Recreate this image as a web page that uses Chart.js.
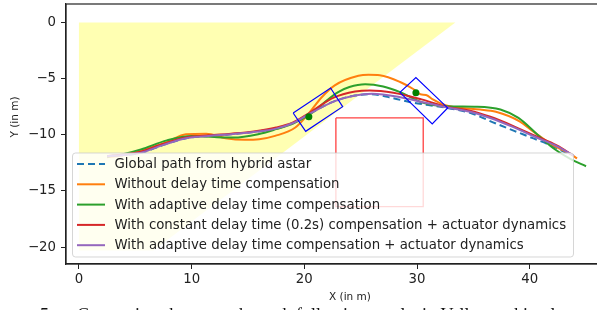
<!DOCTYPE html>
<html>
<head>
<meta charset="utf-8">
<script src="https://cdn.jsdelivr.net/npm/chart.js@4"></script>
<style>
  html, body { margin: 0; padding: 0; background: #fff; overflow: hidden; width: 597px; height: 310px; }
  #wrap { position: absolute; left: 0; top: 0; width: 640px; height: 310px; }
</style>
</head>
<body>
<div id="wrap"><canvas id="c" width="640" height="310"></canvas></div>
<script>
'use strict';

// axis ranges and ticks
const X_MIN = -1.15, X_MAX = 48.9;
const Y_MIN = -21.5, Y_MAX = 1.64;
const xTicks = [0, 10, 20, 30, 40];
const yTicks = [0, -5, -10, -15, -20];

// drivable area (yellow) and obstacle (red)
const areaX = [0, 33.4, 6.6, 0, 0];
const areaY = [0, 0, -20.3, -20.3, 0];
const obstacleX = [22.8, 30.55, 30.55, 22.8, 22.8];
const obstacleY = [-8.5, -8.5, -16.4, -16.4, -8.5];

// vehicle footprints
const car1X = [19.01, 22.33, 23.40, 20.12, 19.01];
const car1Y = [-8.06, -5.84, -7.50, -9.69, -8.06];
const car2X = [28.48, 29.90, 32.72, 31.35, 28.48];
const car2Y = [-6.23, -4.90, -7.61, -9.03, -6.23];
const dotX = [20.4, 29.9];
const dotY = [-8.4, -6.25];

// trajectories
const globalX = [2.5, 4, 5.5, 7.5, 9.5, 11.5, 13.5, 15.5, 17.5, 19, 20.6, 22.7, 24.5, 26, 27.9, 29.4, 31, 32.6, 34.7, 37, 39.5, 42, 43.6];
const globalY = [-11.9, -11.8, -11.6, -10.9, -10.3, -10.1, -9.95, -9.75, -9.45, -8.95, -8.05, -7.0, -6.5, -6.4, -6.75, -7.1, -7.35, -7.6, -8.05, -9.0, -10.0, -11.0, -11.8];

const orangeX = [2.5, 4, 5.5, 7.8, 9.5, 11.3, 13, 14.7, 16, 17.4, 19.2, 20.35, 21.5, 22.7, 24.8, 25.7, 26.7, 28.5, 29.7, 30.3, 30.8, 31.4, 32.6, 33.8, 35.6, 37, 39.1, 40.3, 42.1, 43.6, 44.2];
const orangeY = [-12.0, -11.8, -11.4, -10.65, -9.95, -9.9, -10.3, -10.45, -10.4, -10.1, -9.35, -8.15, -6.7, -5.6, -4.75, -4.66, -4.7, -5.3, -5.95, -6.4, -6.45, -6.85, -7.4, -7.6, -7.75, -7.95, -8.8, -9.7, -10.95, -11.7, -12.1];

const greenX = [2.5, 4, 5.5, 7.8, 10, 12, 13.7, 15.9, 17.5, 19, 20.6, 21.8, 23, 24, 25.4, 27, 28.5, 30.4, 32.6, 35.3, 37.4, 39, 40.6, 42.1, 43.6, 45];
const greenY = [-11.95, -11.7, -11.3, -10.5, -10.1, -10.2, -10.25, -9.95, -9.5, -9.0, -8.1, -7.1, -6.2, -5.75, -5.5, -5.7, -6.2, -7.1, -7.45, -7.5, -7.75, -8.5, -9.9, -11.2, -12.15, -12.8];

const redX = [2.5, 4, 5.5, 7.5, 9.5, 11.5, 13.5, 15.5, 17.5, 19, 20.6, 22.6, 24.5, 25.8, 27.9, 30.4, 32.6, 34.7, 36.5, 38.5, 40.5, 42.4, 43.8];
const redY = [-11.9, -11.75, -11.5, -10.8, -10.25, -10.05, -9.9, -9.7, -9.35, -8.9, -7.95, -6.7, -6.15, -6.05, -6.25, -6.85, -7.5, -7.85, -8.4, -9.2, -10.1, -10.95, -11.8];

const purpleX = [2.5, 4, 5.5, 7.5, 9.5, 11.5, 13.5, 15.5, 17.5, 19, 20.6, 22.7, 24.5, 26, 28.5, 30.5, 32.6, 34.7, 36.5, 38.5, 40.5, 42.4, 43.9];
const purpleY = [-11.9, -11.8, -11.6, -10.9, -10.3, -10.1, -9.95, -9.75, -9.45, -8.95, -8.05, -7.0, -6.5, -6.35, -6.65, -7.1, -7.55, -7.95, -8.5, -9.3, -10.2, -11.0, -11.85];

const LEGEND_LABELS = [
  'Global path from hybrid astar',
  'Without delay time compensation',
  'With adaptive delay time compensation',
  'With constant delay time (0.2s) compensation + actuator dynamics',
  'With adaptive delay time compensation + actuator dynamics',
];
const X_TITLE = 'X (in m)';
const Y_TITLE = 'Y (in m)';
const CAPTION = 'Comparison between the path following results in Valley parking lot test';

const FONT = '"DejaVu Sans", sans-serif';

const pts = (xs, ys) => xs.map((x, i) => ({ x, y: ys[i] }));
const minus = v => (v < 0 ? '\u2212' + Math.abs(v) : String(v));

function shape(xs, ys, color, width, order, fillColor) {
  return {
    data: pts(xs, ys),
    borderColor: color,
    borderWidth: width,
    backgroundColor: fillColor || 'transparent',
    fill: fillColor ? 'shape' : false,
    pointRadius: 0,
    tension: 0,
    order,
  };
}

function trace(label, xs, ys, color, order, dash) {
  return {
    label,
    inLegend: true,
    data: pts(xs, ys),
    borderColor: color,
    backgroundColor: color,
    borderWidth: 2,
    borderDash: dash || [],
    pointRadius: 0,
    fill: false,
    cubicInterpolationMode: 'monotone',
    order,
  };
}

const datasets = [
  shape(areaX, areaY, 'rgba(0,0,0,0)', 0, 20, 'rgba(255,255,0,0.3)'),
  shape(obstacleX, obstacleY, 'rgba(255,0,0,0.75)', 1.3, 19),
  trace(LEGEND_LABELS[0], globalX, globalY, '#1f77b4', 15, [7, 4]),
  trace(LEGEND_LABELS[1], orangeX, orangeY, '#ff7f0e', 14),
  trace(LEGEND_LABELS[2], greenX, greenY, '#2ca02c', 13),
  trace(LEGEND_LABELS[3], redX, redY, '#d62728', 12),
  trace(LEGEND_LABELS[4], purpleX, purpleY, '#9467bd', 11),
  shape(car1X, car1Y, '#0000ff', 1.2, 5),
  shape(car2X, car2Y, '#0000ff', 1.2, 5),
  {
    data: pts(dotX, dotY),
    showLine: false,
    pointRadius: 3.5,
    pointBorderWidth: 0,
    pointBackgroundColor: '#008000',
    order: 4,
  },
];

// legend box drawn inside the axes, over the data (like matplotlib, alpha 0.8)
const innerLegend = {
  id: 'innerLegend',
  afterDatasetsDraw(chart) {
    const ctx = chart.ctx;
    const items = chart.data.datasets.filter(d => d.inLegend);
    const x0 = 72.5, y0 = 153, w = 501, h = 104, rowH = 20.3;
    ctx.save();
    ctx.beginPath();
    ctx.roundRect(x0, y0, w, h, 3);
    ctx.fillStyle = 'rgba(255,255,255,0.8)';
    ctx.fill();
    ctx.strokeStyle = 'rgba(204,204,204,0.8)';
    ctx.lineWidth = 1;
    ctx.stroke();
    ctx.font = '13.3px ' + FONT;
    ctx.textBaseline = 'middle';
    items.forEach((d, i) => {
      const cy = y0 + 11 + i * rowH;
      ctx.beginPath();
      ctx.setLineDash(d.borderDash || []);
      ctx.strokeStyle = d.borderColor;
      ctx.lineWidth = 2;
      ctx.moveTo(77, cy);
      ctx.lineTo(105, cy);
      ctx.stroke();
      ctx.setLineDash([]);
      ctx.fillStyle = '#222';
      ctx.fillText(d.label, 114.5, cy + 0.5);
    });
    ctx.restore();
  },
  afterDraw(chart) {
    const ctx = chart.ctx;
    const a = chart.chartArea;
    ctx.save();
    // axes frame
    ctx.strokeStyle = '#222';
    ctx.lineWidth = 1.2;
    ctx.strokeRect(a.left, a.top, a.right - a.left, a.bottom - a.top);
    // axis titles
    ctx.fillStyle = '#222';
    ctx.font = '10.5px ' + FONT;
    ctx.textAlign = 'center';
    ctx.textBaseline = 'middle';
    ctx.fillText(X_TITLE, 350, 297);
    ctx.translate(15, 117);
    ctx.rotate(-Math.PI / 2);
    ctx.fillText(Y_TITLE, 0, 0);
    ctx.restore();
    // figure caption, cut off by the bottom edge
    ctx.save();
    ctx.fillStyle = '#111';
    ctx.font = '18px "Liberation Serif", serif';
    ctx.textBaseline = 'alphabetic';
    ctx.fillText('5.', 40, 320.5);
    ctx.fillText(CAPTION, 77, 320.5);
    ctx.restore();
  }
};

new Chart(document.getElementById('c'), {
  type: 'line',
  data: { datasets },
  plugins: [innerLegend],
  options: {
    responsive: false,
    animation: false,
    layout: { padding: { left: 0, top: 3, right: 10, bottom: 0 } },
    plugins: { legend: { display: false }, tooltip: { enabled: false } },
    scales: {
      x: {
        type: 'linear',
        min: X_MIN, max: X_MAX,
        afterBuildTicks: s => { s.ticks = xTicks.map(v => ({ value: v })); },
        afterFit: s => { s.height = 46; s.paddingLeft = 0; s.paddingRight = 0; },
        grid: { drawOnChartArea: false, drawTicks: true, tickLength: 5, tickColor: '#222', tickWidth: 1 },
        border: { display: true, color: '#222', width: 1.2 },
        ticks: { color: '#222', padding: 3, font: { family: FONT, size: 13.3 }, callback: minus, maxRotation: 0 },
      },
      y: {
        type: 'linear',
        min: Y_MIN, max: Y_MAX,
        afterBuildTicks: s => { s.ticks = yTicks.map(v => ({ value: v })); },
        afterFit: s => { s.width = 66; s.paddingTop = 0; s.paddingBottom = 0; },
        grid: { drawOnChartArea: false, drawTicks: true, tickLength: 5, tickColor: '#222', tickWidth: 1 },
        border: { display: true, color: '#222', width: 1.2 },
        ticks: { color: '#222', padding: 5, font: { family: FONT, size: 13.3 }, callback: minus },
      },
    },
  },
});
</script>
</body>
</html>
